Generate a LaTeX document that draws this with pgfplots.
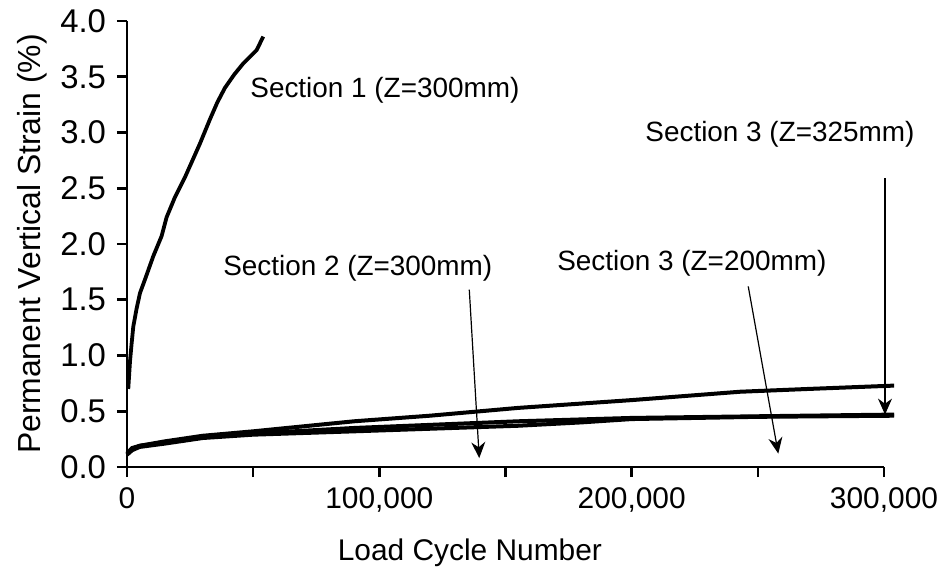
\documentclass[border=0pt]{standalone}
\usepackage{pgfplots}
\pgfplotsset{compat=1.18}
\usepackage{fontspec}
\setmainfont{Liberation Sans}
\usetikzlibrary{arrows.meta}
\begin{document}
\begin{tikzpicture}
\begin{axis}[
  at={(0,0)}, anchor=origin,
  scale only axis, width=378.5bp, height=223bp,
  xmin=0, xmax=300000, ymin=0, ymax=4,
  axis x line=bottom, axis y line=left,
  axis line style={-, line width=1.4bp},
  clip=false,
  xtick={0,50000,100000,150000,200000,250000,300000},
  xticklabels={0,,{100,000},,{200,000},,{300,000}},
  scaled x ticks=false,
  ytick={0,0.5,...,4.0},
  tick align=outside, major tick length=5bp,
  tick style={line width=1.3bp, black},
  /pgf/number format/assume math mode=true,
  yticklabel style={/pgf/number format/fixed, /pgf/number format/fixed zerofill, /pgf/number format/precision=1, xshift=-2bp, font=\fontsize{16.5}{19}\selectfont},
  xticklabel style={yshift=-2bp, font=\fontsize{15}{18}\selectfont},
  every axis x label/.style={at={(axis description cs:0.453,0)}, yshift=-43bp, anchor=center, font=\fontsize{15}{18}\selectfont},
  every axis y label/.style={at={(axis description cs:0,0.5)}, xshift=-47.5bp, rotate=90, anchor=center, font=\fontsize{16}{19}\selectfont},
  xlabel={Load Cycle Number},
  ylabel={Permanent Vertical Strain (\%)},
]
% Section 1
\addplot[black, line width=1.9bp] coordinates {
(500,0.70) (1200,0.95) (1800,1.10) (2500,1.26) (3800,1.42) (5150,1.56) (7100,1.68)
(10400,1.89) (13700,2.07) (15700,2.24) (19000,2.42) (23000,2.60) (28900,2.90)
(32900,3.12) (35800,3.27) (38800,3.40) (42500,3.52) (46100,3.62) (51400,3.74) (54000,3.86)};
% upper lower-curve
\addplot[black, line width=2bp] coordinates {
(0,0.12) (2000,0.17) (5000,0.19) (15000,0.23) (30000,0.28) (50000,0.32) (90000,0.41)
(120000,0.46) (155000,0.53) (200000,0.60) (243000,0.675) (270000,0.70) (304000,0.73)};
% middle
\addplot[black, line width=2bp] coordinates {
(0,0.12) (2000,0.16) (5000,0.19) (15000,0.22) (30000,0.27) (50000,0.30) (90000,0.35)
(155000,0.41) (200000,0.44) (250000,0.455) (304000,0.47)};
% bottom
\addplot[black, line width=2bp] coordinates {
(0,0.11) (2000,0.15) (5000,0.18) (15000,0.21) (30000,0.26) (50000,0.29) (90000,0.32)
(155000,0.37) (180000,0.40) (200000,0.43) (250000,0.45) (304000,0.46)};
% annotations
\node[anchor=west, inner sep=0pt, font=\fontsize{14}{16}\selectfont] at (axis cs:48750,3.38) {Section 1 (Z=300mm)};
\node[anchor=west, inner sep=0pt, font=\fontsize{14}{16}\selectfont] at (axis cs:38000,1.78) {Section 2 (Z=300mm)};
\node[anchor=west, inner sep=0pt, font=\fontsize{14}{16}\selectfont] at (axis cs:170400,1.83) {Section 3 (Z=200mm)};
\node[anchor=west, inner sep=0pt, font=\fontsize{14}{16}\selectfont] at (axis cs:205300,2.98) {Section 3 (Z=325mm)};
\draw[line width=0.6bp, -{Stealth[length=8bp,width=7bp]}] (axis cs:135650,1.59) -- (axis cs:139600,0.08);
\draw[line width=0.6bp, -{Stealth[length=8bp,width=7bp]}] (axis cs:246200,1.62) -- (axis cs:258100,0.12);
\draw[line width=0.6bp, -{Stealth[length=8bp,width=7bp]}] (axis cs:300400,2.59) -- (axis cs:300400,0.47);
\end{axis}
\pgfresetboundingbox
\path[use as bounding box] (-63.5bp,-58bp) rectangle (408bp,233.5bp);
\end{tikzpicture}
\end{document}
